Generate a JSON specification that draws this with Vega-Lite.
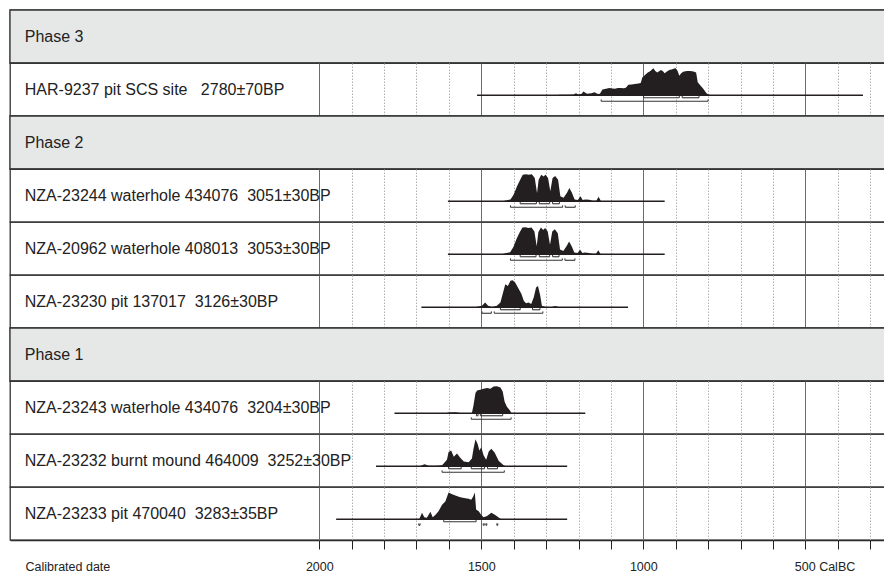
{
"$schema": "https://vega.github.io/schema/vega-lite/v6.json",
"padding": {"left": 8, "top": 8, "right": 0, "bottom": 0},
"bounds": "flush",
"config": {"view": {"stroke": "#333", "strokeWidth": 1.3}, "font": "Liberation Sans", "mark": {"invalid": "show"}},
"data": {"values": [
{"row":0,"t":"lab","kind":"header","label":"Phase 3"},
{"row":1,"t":"lab","kind":"date","label":"HAR-9237 pit SCS site\u00a0\u00a0\u00a02780±70BP"},
{"row":2,"t":"lab","kind":"header","label":"Phase 2"},
{"row":3,"t":"lab","kind":"date","label":"NZA-23244 waterhole 434076\u00a0\u00a03051±30BP"},
{"row":4,"t":"lab","kind":"date","label":"NZA-20962 waterhole 408013\u00a0\u00a03053±30BP"},
{"row":5,"t":"lab","kind":"date","label":"NZA-23230 pit 137017\u00a0\u00a03126±30BP"},
{"row":6,"t":"lab","kind":"header","label":"Phase 1"},
{"row":7,"t":"lab","kind":"date","label":"NZA-23243 waterhole 434076\u00a0\u00a03204±30BP"},
{"row":8,"t":"lab","kind":"date","label":"NZA-23232 burnt mound 464009\u00a0\u00a03252±30BP"},
{"row":9,"t":"lab","kind":"date","label":"NZA-23233 pit 470040\u00a0\u00a03283±35BP"},
{"row":1,"t":"line","x":1513,"x2":322},
{"row":3,"t":"line","x":1603,"x2":934},
{"row":4,"t":"line","x":1603,"x2":934},
{"row":5,"t":"line","x":1685,"x2":1047},
{"row":7,"t":"line","x":1768,"x2":1179},
{"row":8,"t":"line","x":1825,"x2":1235},
{"row":9,"t":"line","x":1948,"x2":1235},
{"row":1,"t":"r95","x":1130,"x2":800},
{"row":1,"t":"r68","x":999,"x2":889},
{"row":1,"t":"r68","x":880,"x2":828},
{"row":3,"t":"r68","x":1380,"x2":1330},
{"row":3,"t":"r68","x":1321,"x2":1289},
{"row":3,"t":"r68","x":1280,"x2":1259},
{"row":3,"t":"r95","x":1410,"x2":1249},
{"row":3,"t":"r95","x":1241,"x2":1210},
{"row":4,"t":"r68","x":1380,"x2":1331},
{"row":4,"t":"r68","x":1321,"x2":1289},
{"row":4,"t":"r68","x":1280,"x2":1260},
{"row":4,"t":"r95","x":1410,"x2":1250},
{"row":4,"t":"r95","x":1242,"x2":1211},
{"row":5,"t":"r68","x":1441,"x2":1380},
{"row":5,"t":"r68","x":1342,"x2":1319},
{"row":5,"t":"r95","x":1498,"x2":1469},
{"row":5,"t":"r95","x":1460,"x2":1310},
{"row":7,"t":"r68","x":1515,"x2":1510},
{"row":7,"t":"r68","x":1503,"x2":1434},
{"row":7,"t":"r95","x":1531,"x2":1408},
{"row":8,"t":"r68","x":1601,"x2":1562},
{"row":8,"t":"r68","x":1531,"x2":1490},
{"row":8,"t":"r68","x":1481,"x2":1450},
{"row":8,"t":"r95","x":1621,"x2":1429},
{"row":9,"t":"r68","x":1616,"x2":1516},
{"row":9,"t":"r95","x":1693,"x2":1689},
{"row":9,"t":"r95","x":1494,"x2":1491},
{"row":9,"t":"r95","x":1486,"x2":1483},
{"row":9,"t":"r95","x":1452,"x2":1449},
{"row":1,"t":"d","x":1265,"p":0},{"row":1,"t":"d","x":1259,"p":0.02},{"row":1,"t":"d","x":1230,"p":0.02},{"row":1,"t":"d","x":1215,"p":0.03},{"row":1,"t":"d","x":1208,"p":0.08},{"row":1,"t":"d","x":1200,"p":0.03},{"row":1,"t":"d","x":1190,"p":0.06},{"row":1,"t":"d","x":1185,"p":0.14},{"row":1,"t":"d","x":1174,"p":0.06},{"row":1,"t":"d","x":1160,"p":0.08},{"row":1,"t":"d","x":1151,"p":0.11},{"row":1,"t":"d","x":1140,"p":0.05},{"row":1,"t":"d","x":1134,"p":0.06},{"row":1,"t":"d","x":1126,"p":0.22},{"row":1,"t":"d","x":1115,"p":0.24},{"row":1,"t":"d","x":1105,"p":0.27},{"row":1,"t":"d","x":1095,"p":0.25},{"row":1,"t":"d","x":1088,"p":0.24},{"row":1,"t":"d","x":1078,"p":0.27},{"row":1,"t":"d","x":1071,"p":0.27},{"row":1,"t":"d","x":1060,"p":0.26},{"row":1,"t":"d","x":1054,"p":0.28},{"row":1,"t":"d","x":1046,"p":0.39},{"row":1,"t":"d","x":1036,"p":0.40},{"row":1,"t":"d","x":1026,"p":0.42},{"row":1,"t":"d","x":1015,"p":0.44},{"row":1,"t":"d","x":1008,"p":0.46},{"row":1,"t":"d","x":1003,"p":0.66},{"row":1,"t":"d","x":994,"p":0.76},{"row":1,"t":"d","x":986,"p":0.84},{"row":1,"t":"d","x":978,"p":0.9},{"row":1,"t":"d","x":969,"p":1.0},{"row":1,"t":"d","x":963,"p":0.9},{"row":1,"t":"d","x":957,"p":0.84},{"row":1,"t":"d","x":950,"p":0.9},{"row":1,"t":"d","x":946,"p":0.94},{"row":1,"t":"d","x":940,"p":0.9},{"row":1,"t":"d","x":934,"p":0.82},{"row":1,"t":"d","x":925,"p":0.9},{"row":1,"t":"d","x":918,"p":0.95},{"row":1,"t":"d","x":912,"p":0.96},{"row":1,"t":"d","x":905,"p":0.99},{"row":1,"t":"d","x":900,"p":1.0},{"row":1,"t":"d","x":894,"p":0.9},{"row":1,"t":"d","x":889,"p":0.72},{"row":1,"t":"d","x":883,"p":0.82},{"row":1,"t":"d","x":877,"p":0.87},{"row":1,"t":"d","x":866,"p":0.9},{"row":1,"t":"d","x":855,"p":0.9},{"row":1,"t":"d","x":845,"p":0.88},{"row":1,"t":"d","x":837,"p":0.84},{"row":1,"t":"d","x":832,"p":0.48},{"row":1,"t":"d","x":825,"p":0.38},{"row":1,"t":"d","x":815,"p":0.24},{"row":1,"t":"d","x":805,"p":0.08},{"row":1,"t":"d","x":798,"p":0.02},{"row":1,"t":"d","x":790,"p":0},
{"row":3,"t":"d","x":1435,"p":0},{"row":3,"t":"d","x":1428,"p":0.02},{"row":3,"t":"d","x":1410,"p":0.07},{"row":3,"t":"d","x":1400,"p":0.25},{"row":3,"t":"d","x":1390,"p":0.55},{"row":3,"t":"d","x":1380,"p":0.8},{"row":3,"t":"d","x":1372,"p":0.98},{"row":3,"t":"d","x":1362,"p":1.0},{"row":3,"t":"d","x":1354,"p":0.98},{"row":3,"t":"d","x":1344,"p":1.0},{"row":3,"t":"d","x":1335,"p":0.86},{"row":3,"t":"d","x":1328,"p":0.31},{"row":3,"t":"d","x":1323,"p":0.8},{"row":3,"t":"d","x":1315,"p":0.98},{"row":3,"t":"d","x":1308,"p":0.92},{"row":3,"t":"d","x":1302,"p":0.98},{"row":3,"t":"d","x":1294,"p":0.86},{"row":3,"t":"d","x":1287,"p":0.37},{"row":3,"t":"d","x":1280,"p":0.86},{"row":3,"t":"d","x":1272,"p":0.94},{"row":3,"t":"d","x":1263,"p":0.8},{"row":3,"t":"d","x":1256,"p":0.19},{"row":3,"t":"d","x":1246,"p":0.13},{"row":3,"t":"d","x":1236,"p":0.31},{"row":3,"t":"d","x":1228,"p":0.49},{"row":3,"t":"d","x":1220,"p":0.31},{"row":3,"t":"d","x":1212,"p":0.07},{"row":3,"t":"d","x":1202,"p":0.05},{"row":3,"t":"d","x":1194,"p":0.19},{"row":3,"t":"d","x":1187,"p":0.05},{"row":3,"t":"d","x":1179,"p":0.07},{"row":3,"t":"d","x":1167,"p":0.06},{"row":3,"t":"d","x":1156,"p":0.02},{"row":3,"t":"d","x":1145,"p":0.02},{"row":3,"t":"d","x":1138,"p":0.17},{"row":3,"t":"d","x":1131,"p":0.01},{"row":3,"t":"d","x":1125,"p":0},
{"row":4,"t":"d","x":1436,"p":0},{"row":4,"t":"d","x":1429,"p":0.03},{"row":4,"t":"d","x":1411,"p":0.08},{"row":4,"t":"d","x":1401,"p":0.27},{"row":4,"t":"d","x":1391,"p":0.58},{"row":4,"t":"d","x":1381,"p":0.83},{"row":4,"t":"d","x":1373,"p":0.99},{"row":4,"t":"d","x":1363,"p":1.0},{"row":4,"t":"d","x":1355,"p":0.97},{"row":4,"t":"d","x":1345,"p":0.99},{"row":4,"t":"d","x":1336,"p":0.84},{"row":4,"t":"d","x":1329,"p":0.3},{"row":4,"t":"d","x":1324,"p":0.82},{"row":4,"t":"d","x":1316,"p":0.99},{"row":4,"t":"d","x":1309,"p":0.9},{"row":4,"t":"d","x":1303,"p":0.97},{"row":4,"t":"d","x":1295,"p":0.84},{"row":4,"t":"d","x":1288,"p":0.35},{"row":4,"t":"d","x":1281,"p":0.84},{"row":4,"t":"d","x":1273,"p":0.93},{"row":4,"t":"d","x":1264,"p":0.78},{"row":4,"t":"d","x":1257,"p":0.18},{"row":4,"t":"d","x":1247,"p":0.12},{"row":4,"t":"d","x":1237,"p":0.3},{"row":4,"t":"d","x":1229,"p":0.47},{"row":4,"t":"d","x":1221,"p":0.3},{"row":4,"t":"d","x":1213,"p":0.07},{"row":4,"t":"d","x":1203,"p":0.05},{"row":4,"t":"d","x":1195,"p":0.17},{"row":4,"t":"d","x":1188,"p":0.05},{"row":4,"t":"d","x":1180,"p":0.07},{"row":4,"t":"d","x":1168,"p":0.05},{"row":4,"t":"d","x":1157,"p":0.02},{"row":4,"t":"d","x":1146,"p":0.02},{"row":4,"t":"d","x":1139,"p":0.15},{"row":4,"t":"d","x":1132,"p":0.01},{"row":4,"t":"d","x":1126,"p":0},
{"row":5,"t":"d","x":1520,"p":0},{"row":5,"t":"d","x":1513,"p":0.02},{"row":5,"t":"d","x":1498,"p":0.06},{"row":5,"t":"d","x":1488,"p":0.18},{"row":5,"t":"d","x":1479,"p":0.06},{"row":5,"t":"d","x":1467,"p":0.01},{"row":5,"t":"d","x":1452,"p":0.06},{"row":5,"t":"d","x":1441,"p":0.18},{"row":5,"t":"d","x":1434,"p":0.49},{"row":5,"t":"d","x":1426,"p":0.85},{"row":5,"t":"d","x":1418,"p":0.79},{"row":5,"t":"d","x":1410,"p":0.98},{"row":5,"t":"d","x":1403,"p":1.0},{"row":5,"t":"d","x":1395,"p":0.91},{"row":5,"t":"d","x":1387,"p":0.73},{"row":5,"t":"d","x":1376,"p":0.49},{"row":5,"t":"d","x":1369,"p":0.24},{"row":5,"t":"d","x":1362,"p":0.15},{"row":5,"t":"d","x":1354,"p":0.18},{"row":5,"t":"d","x":1346,"p":0.12},{"row":5,"t":"d","x":1338,"p":0.37},{"row":5,"t":"d","x":1331,"p":0.73},{"row":5,"t":"d","x":1325,"p":0.79},{"row":5,"t":"d","x":1318,"p":0.43},{"row":5,"t":"d","x":1313,"p":0.06},{"row":5,"t":"d","x":1302,"p":0.01},{"row":5,"t":"d","x":1282,"p":0.01},{"row":5,"t":"d","x":1272,"p":0.05},{"row":5,"t":"d","x":1261,"p":0.01},{"row":5,"t":"d","x":1255,"p":0},
{"row":7,"t":"d","x":1610,"p":0},{"row":7,"t":"d","x":1601,"p":0.03},{"row":7,"t":"d","x":1580,"p":0.04},{"row":7,"t":"d","x":1565,"p":0.01},{"row":7,"t":"d","x":1560,"p":0},{"row":7,"t":"d","x":1532,"p":0},{"row":7,"t":"d","x":1529,"p":0.01},{"row":7,"t":"d","x":1524,"p":0.3},{"row":7,"t":"d","x":1518,"p":0.75},{"row":7,"t":"d","x":1513,"p":0.84},{"row":7,"t":"d","x":1503,"p":0.87},{"row":7,"t":"d","x":1493,"p":0.91},{"row":7,"t":"d","x":1482,"p":0.94},{"row":7,"t":"d","x":1472,"p":0.91},{"row":7,"t":"d","x":1462,"p":0.99},{"row":7,"t":"d","x":1452,"p":1.0},{"row":7,"t":"d","x":1441,"p":0.96},{"row":7,"t":"d","x":1434,"p":0.81},{"row":7,"t":"d","x":1428,"p":0.43},{"row":7,"t":"d","x":1421,"p":0.24},{"row":7,"t":"d","x":1412,"p":0.11},{"row":7,"t":"d","x":1407,"p":0.01},{"row":7,"t":"d","x":1403,"p":0},
{"row":8,"t":"d","x":1690,"p":0},{"row":8,"t":"d","x":1683,"p":0.04},{"row":8,"t":"d","x":1675,"p":0.08},{"row":8,"t":"d","x":1662,"p":0.02},{"row":8,"t":"d","x":1640,"p":0.02},{"row":8,"t":"d","x":1621,"p":0.04},{"row":8,"t":"d","x":1606,"p":0.24},{"row":8,"t":"d","x":1601,"p":0.53},{"row":8,"t":"d","x":1593,"p":0.59},{"row":8,"t":"d","x":1585,"p":0.35},{"row":8,"t":"d","x":1575,"p":0.47},{"row":8,"t":"d","x":1565,"p":0.32},{"row":8,"t":"d","x":1554,"p":0.18},{"row":8,"t":"d","x":1539,"p":0.15},{"row":8,"t":"d","x":1529,"p":0.29},{"row":8,"t":"d","x":1524,"p":0.65},{"row":8,"t":"d","x":1518,"p":1.0},{"row":8,"t":"d","x":1511,"p":0.82},{"row":8,"t":"d","x":1506,"p":0.59},{"row":8,"t":"d","x":1500,"p":0.71},{"row":8,"t":"d","x":1493,"p":0.41},{"row":8,"t":"d","x":1485,"p":0.24},{"row":8,"t":"d","x":1477,"p":0.55},{"row":8,"t":"d","x":1469,"p":0.65},{"row":8,"t":"d","x":1459,"p":0.51},{"row":8,"t":"d","x":1446,"p":0.2},{"row":8,"t":"d","x":1431,"p":0.04},{"row":8,"t":"d","x":1425,"p":0},
{"row":9,"t":"d","x":1697,"p":0},{"row":9,"t":"d","x":1691,"p":0.02},{"row":9,"t":"d","x":1683,"p":0.24},{"row":9,"t":"d","x":1676,"p":0.08},{"row":9,"t":"d","x":1668,"p":0.06},{"row":9,"t":"d","x":1657,"p":0.28},{"row":9,"t":"d","x":1650,"p":0.08},{"row":9,"t":"d","x":1642,"p":0.16},{"row":9,"t":"d","x":1632,"p":0.3},{"row":9,"t":"d","x":1621,"p":0.54},{"row":9,"t":"d","x":1611,"p":0.66},{"row":9,"t":"d","x":1601,"p":0.99},{"row":9,"t":"d","x":1590,"p":0.93},{"row":9,"t":"d","x":1580,"p":0.88},{"row":9,"t":"d","x":1565,"p":0.82},{"row":9,"t":"d","x":1549,"p":0.78},{"row":9,"t":"d","x":1539,"p":0.76},{"row":9,"t":"d","x":1531,"p":0.72},{"row":9,"t":"d","x":1525,"p":0.84},{"row":9,"t":"d","x":1520,"p":0.99},{"row":9,"t":"d","x":1516,"p":0.36},{"row":9,"t":"d","x":1508,"p":0.3},{"row":9,"t":"d","x":1500,"p":0.16},{"row":9,"t":"d","x":1493,"p":0.08},{"row":9,"t":"d","x":1482,"p":0.12},{"row":9,"t":"d","x":1469,"p":0.24},{"row":9,"t":"d","x":1457,"p":0.16},{"row":9,"t":"d","x":1441,"p":0.02},{"row":9,"t":"d","x":1435,"p":0}
]},
"facet": {"row": {"field": "row", "type": "ordinal", "header": null}},
"spacing": 0,
"spec": {
  "width": 880,
  "height": 53,
  "layer": [
    {
      "transform": [{"filter": "datum.t === 'lab' && datum.kind === 'header'"}],
      "mark": {"type": "rect", "fill": "#e6e7e7", "stroke": "#333", "strokeWidth": 1.3},
      "encoding": {
        "x": {"datum": 2954.6, "type": "quantitative", "scale": {"domain": [2954.6, 238.6], "nice": false, "zero": false}},
        "x2": {"datum": 238.6},
        "y": {"datum": -0.765, "type": "quantitative", "scale": {"domain": [-0.765, 1.196], "nice": false, "zero": false}, "axis": null},
        "y2": {"datum": 1.196}
      }
    },
    {
      "transform": [{"filter": "datum.t === 'lab'"}],
      "mark": {"type": "text", "align": "left", "baseline": "middle", "fontSize": 16, "color": "#222", "font": "Liberation Sans"},
      "encoding": {
        "x": {"datum": 2909, "type": "quantitative", "scale": {"domain": [2954.6, 238.6], "nice": false, "zero": false}},
        "y": {"datum": 0.2, "type": "quantitative", "scale": {"domain": [-0.765, 1.196], "nice": false, "zero": false}, "axis": null},
        "text": {"field": "label", "type": "nominal"}
      }
    },
    {
      "transform": [{"filter": "datum.t === 'line'"}],
      "mark": {"type": "rule", "color": "#231f20", "strokeWidth": 1.6},
      "encoding": {
        "x": {"field": "x", "type": "quantitative", "title": "Calibrated date",
          "scale": {"domain": [2954.6, 238.6], "nice": false, "zero": false},
          "axis": {
            "values": [2000,1900,1800,1700,1600,1500,1400,1300,1200,1100,1000,900,800,700,600,500,400,300],
            "labelExpr": "datum.value % 500 === 0 ? (datum.value === 500 ? '500 CalBC' : format(datum.value, 'd')) : ''",
            "labelAlign": {"condition": {"test": "datum.value === 500", "value": "left"}, "value": "center"},
            "labelOffset": {"condition": {"test": "datum.value === 500", "value": -11}, "value": 0},
            "labelFlush": false, "labelOverlap": false, "labelBound": false,
            "grid": true,
            "gridColor": {"condition": {"test": "datum.value % 500 === 0", "value": "#6b6b6b"}, "value": "#b0b0b0"},
            "gridDash": {"condition": {"test": "datum.value % 500 === 0", "value": []}, "value": [1.5, 1.5]},
            "gridWidth": 1,
            "tickSize": 9, "tickColor": "#222", "tickWidth": 1,
            "domainColor": "#222", "domainWidth": 1.3,
            "labelFontSize": 12.5, "labelColor": "#222", "labelPadding": 11, "labelFont": "Liberation Sans",
            "titleFontSize": 12.5, "titleFontWeight": "normal", "titleColor": "#222", "titleFont": "Liberation Sans",
            "titleAnchor": "start", "titleAlign": "left", "titleX": 15, "titleY": 20, "titleBaseline": "top"
          }
        },
        "x2": {"field": "x2"},
        "y": {"datum": 0, "type": "quantitative", "scale": {"domain": [-0.765, 1.196], "nice": false, "zero": false}, "axis": null}
      }
    },
    {
      "transform": [{"filter": "datum.t === 'd'"}],
      "mark": {"type": "area", "color": "#231f20", "interpolate": "linear"},
      "encoding": {
        "x": {"field": "x", "type": "quantitative", "title": "Calibrated date", "scale": {"domain": [2954.6, 238.6], "nice": false, "zero": false}},
        "y": {"field": "p", "type": "quantitative", "scale": {"domain": [-0.765, 1.196], "nice": false, "zero": false}, "axis": null},
        "y2": {"datum": 0}
      }
    },
    {
      "transform": [{"filter": "datum.t === 'r68'"}],
      "mark": {"type": "rule", "color": "#333", "strokeWidth": 1.1},
      "encoding": {
        "x": {"field": "x", "type": "quantitative", "title": "Calibrated date", "scale": {"domain": [2954.6, 238.6], "nice": false, "zero": false}},
        "x2": {"field": "x2"},
        "y": {"datum": -0.09, "type": "quantitative", "scale": {"domain": [-0.765, 1.196], "nice": false, "zero": false}, "axis": null}
      }
    },
    {
      "transform": [{"filter": "datum.t === 'r95'"}],
      "mark": {"type": "rule", "color": "#333", "strokeWidth": 1.1},
      "encoding": {
        "x": {"field": "x", "type": "quantitative", "title": "Calibrated date", "scale": {"domain": [2954.6, 238.6], "nice": false, "zero": false}},
        "x2": {"field": "x2"},
        "y": {"datum": -0.22, "type": "quantitative", "scale": {"domain": [-0.765, 1.196], "nice": false, "zero": false}, "axis": null}
      }
    },
    {
      "transform": [{"filter": "datum.t === 'r68'"}, {"fold": ["x", "x2"], "as": ["k", "xe"]}],
      "mark": {"type": "rule", "color": "#333", "strokeWidth": 1},
      "encoding": {
        "x": {"field": "xe", "type": "quantitative", "title": "Calibrated date", "scale": {"domain": [2954.6, 238.6], "nice": false, "zero": false}},
        "y": {"datum": -0.09, "type": "quantitative", "scale": {"domain": [-0.765, 1.196], "nice": false, "zero": false}, "axis": null},
        "y2": {"datum": -0.02}
      }
    },
    {
      "transform": [{"filter": "datum.t === 'r95'"}, {"fold": ["x", "x2"], "as": ["k", "xe"]}],
      "mark": {"type": "rule", "color": "#333", "strokeWidth": 1},
      "encoding": {
        "x": {"field": "xe", "type": "quantitative", "title": "Calibrated date", "scale": {"domain": [2954.6, 238.6], "nice": false, "zero": false}},
        "y": {"datum": -0.22, "type": "quantitative", "scale": {"domain": [-0.765, 1.196], "nice": false, "zero": false}, "axis": null},
        "y2": {"datum": -0.15}
      }
    }
  ]
}
}
